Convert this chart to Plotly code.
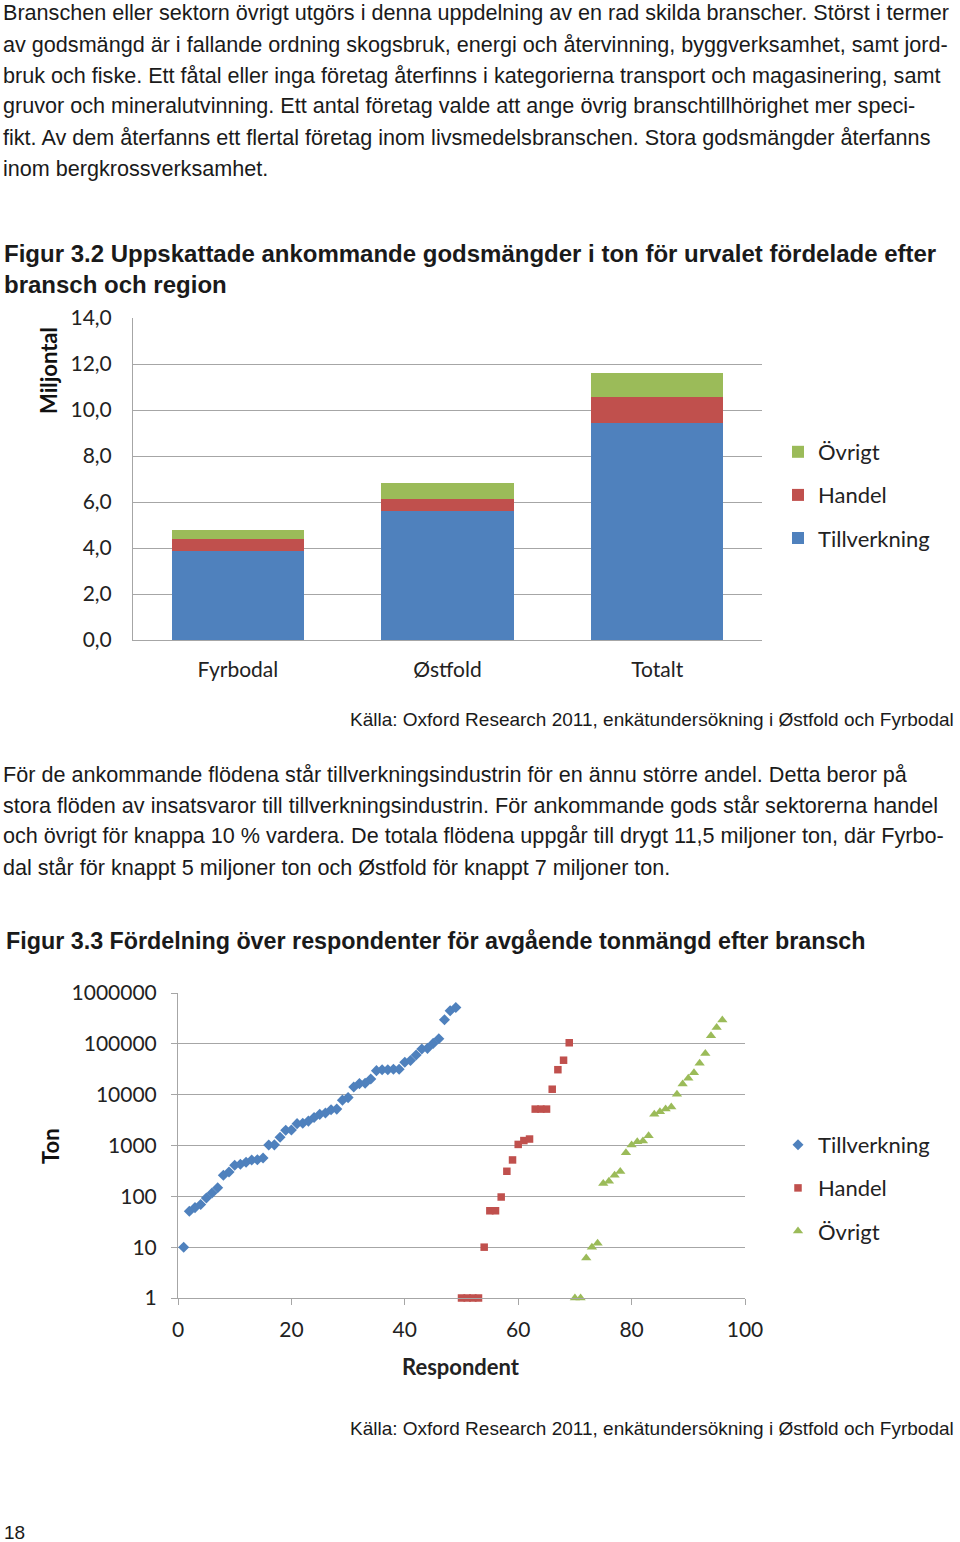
import plotly.graph_objects as go

W, H = 960, 1542


def px(x):
    return x / W


def py(y):
    return 1 - y / H


# ---------------- data: figure 3.2 (stacked bars) ----------------
regions = ["Fyrbodal", "Østfold", "Totalt"]
bar_tillverkning = [3.88, 5.59, 9.44]
bar_handel = [0.53, 0.54, 1.12]
bar_ovrigt = [0.38, 0.71, 1.06]
bar_yticks = [0, 2, 4, 6, 8, 10, 12, 14]
bar_yticktext = ["0,0", "2,0", "4,0", "6,0", "8,0", "10,0", "12,0", "14,0"]

# ---------------- data: figure 3.3 (respondents, log scale) ----------------
resp_tillverkning = [1, 2, 3, 4, 5, 6, 7, 8, 9, 10, 11, 12, 13, 14, 15, 16, 17,
                     18, 19, 20, 21, 22, 23, 24, 25, 26, 27, 28, 29, 30, 31, 32,
                     33, 34, 35, 36, 37, 38, 39, 40, 41, 42, 43, 44, 45, 46, 47,
                     48, 49]
ton_tillverkning = [10, 51, 60, 69, 93, 116, 148, 259, 302, 409, 429, 468, 520,
                    525, 570, 1020, 1030, 1450, 2000, 2020, 2690, 2750, 3020,
                    3540, 4100, 4360, 5040, 5200, 7800, 8750, 14200, 16500,
                    16800, 20400, 29700, 31000, 31000, 31600, 31700, 43500,
                    47000, 60500, 79000, 81500, 102000, 126000, 298000, 446000,
                    520000]
resp_handel = [50, 51, 52, 53, 54, 55, 56, 57, 58, 59, 60, 61, 62, 63, 64, 65,
               66, 67, 68, 69]
ton_handel = [1, 1, 1, 1, 10, 52, 52, 97, 311, 520, 1050, 1250, 1340, 5200,
              5200, 5200, 12800, 31000, 47600, 105000]
resp_ovrigt = [70, 71, 72, 73, 74, 75, 76, 77, 78, 79, 80, 81, 82, 83, 84, 85,
               86, 87, 88, 89, 90, 91, 92, 93, 94, 95, 96]
ton_ovrigt = [1, 1, 6.1, 10, 12, 178, 198, 259, 307, 720, 1020, 1180, 1230,
              1550, 4100, 4600, 5200, 5700, 10200, 16300, 21000, 27000, 41500,
              64500, 145000, 210000, 293000]
log_yticks = [1, 10, 100, 1000, 10000, 100000, 1000000]
log_yticktext = ["1", "10", "100", "1000", "10000", "100000", "1000000"]
resp_xticks = [0, 20, 40, 60, 80, 100]

# ---------------- page text ----------------
para1 = [
    "Branschen eller sektorn övrigt utgörs i denna uppdelning av en rad skilda branscher. Störst i termer",
    "av godsmängd är i fallande ordning skogsbruk, energi och återvinning, byggverksamhet, samt jord-",
    "bruk och fiske. Ett fåtal eller inga företag återfinns i kategorierna transport och magasinering, samt",
    "gruvor och mineralutvinning. Ett antal företag valde att ange övrig branschtillhörighet mer speci-",
    "fikt. Av dem återfanns ett flertal företag inom livsmedelsbranschen. Stora godsmängder återfanns",
    "inom bergkrossverksamhet.",
]
caption1 = [
    "Figur 3.2 Uppskattade ankommande godsmängder i ton för urvalet fördelade efter",
    "bransch och region",
]
para2 = [
    "För de ankommande flödena står tillverkningsindustrin för en ännu större andel. Detta beror på",
    "stora flöden av insatsvaror till tillverkningsindustrin. För ankommande gods står sektorerna handel",
    "och övrigt för knappa 10 % vardera. De totala flödena uppgår till drygt 11,5 miljoner ton, där Fyrbo-",
    "dal står för knappt 5 miljoner ton och Østfold för knappt 7 miljoner ton.",
]
caption2 = "Figur 3.3 Fördelning över respondenter för avgående tonmängd efter bransch"
source = "Källa: Oxford Research 2011, enkätundersökning i Østfold och Fyrbodal"
page_no = "18"

BLUE, RED, GREEN = "#4F81BD", "#C0504D", "#9BBB59"
GRID = "#A6A6A6"
CHART_FONT = "Lato, Carlito, Calibri, sans-serif"
BODY_FONT = "Liberation Sans, Arial, sans-serif"
TXT = "#1a1a1a"

fig = go.Figure()

# stacked bars
for name, vals, col, rank in [("Tillverkning", bar_tillverkning, BLUE, 3),
                              ("Handel", bar_handel, RED, 2),
                              ("Övrigt", bar_ovrigt, GREEN, 1)]:
    fig.add_trace(go.Bar(x=regions, y=vals, name=name, marker_color=col,
                         marker_line_width=0, legendgroup="b" + name,
                         legendrank=rank, legend="legend",
                         xaxis="x", yaxis="y"))

# scatter
for name, xs, ys, col, sym, size, rank in [
        ("Tillverkning", resp_tillverkning, ton_tillverkning, BLUE, "diamond", 8.5, 1),
        ("Handel", resp_handel, ton_handel, RED, "square", 7.5, 2),
        ("Övrigt", resp_ovrigt, ton_ovrigt, GREEN, "triangle-up", 9, 3)]:
    fig.add_trace(go.Scatter(x=xs, y=ys, name=name, mode="markers",
                             marker=dict(color=col, symbol=sym, size=size,
                                         line=dict(width=0)),
                             cliponaxis=False, legendgroup="s" + name,
                             legendrank=rank, legend="legend2",
                             xaxis="x2", yaxis="y2"))

tick_font = dict(family=CHART_FONT, size=21, color="#222")

fig.update_layout(
    width=W, height=H, autosize=False,
    margin=dict(l=0, r=0, t=0, b=0, autoexpand=False),
    paper_bgcolor="white", plot_bgcolor="white",
    barmode="stack", bargap=0.37,
    showlegend=True,
    xaxis=dict(domain=[px(133), px(762)], anchor="y", showgrid=False,
               showline=True, linecolor=GRID, linewidth=1, ticks="",
               tickfont=tick_font, ticklabelstandoff=11, fixedrange=True,
               automargin=False),
    yaxis=dict(domain=[py(640), py(318)], anchor="x", range=[0, 14],
               tickvals=bar_yticks, ticktext=bar_yticktext,
               showgrid=True, gridcolor=GRID, gridwidth=1,
               showline=True, linecolor=GRID, zeroline=False,
               ticks="", ticklabelstandoff=16, tickfont=tick_font,
               automargin=False),
    xaxis2=dict(domain=[px(178), px(745)], anchor="y2", range=[0, 100],
                tickvals=resp_xticks, showgrid=False, zeroline=False,
                showline=True, linecolor=GRID, ticks="outside", ticklen=6,
                tickcolor=GRID, ticklabelstandoff=7, tickfont=tick_font,
                automargin=False),
    yaxis2=dict(domain=[py(1298), py(993)], anchor="x2", type="log",
                range=[0, 6], tickvals=log_yticks, ticktext=log_yticktext,
                showgrid=True, gridcolor=GRID, gridwidth=1, zeroline=False,
                showline=True, linecolor=GRID, ticks="outside", ticklen=6,
                tickcolor=GRID, ticklabelstandoff=10, tickfont=tick_font,
                automargin=False),
    legend=dict(x=px(778), y=py(431), xanchor="left", yanchor="top",
                traceorder="grouped", tracegroupgap=11.5,
                font=dict(family=CHART_FONT, size=22, color="#222"),
                bgcolor="rgba(0,0,0,0)", itemclick=False),
    legend2=dict(x=px(778), y=py(1124), xanchor="left", yanchor="top",
                 traceorder="grouped", tracegroupgap=11.5,
                 font=dict(family=CHART_FONT, size=22, color="#222"),
                 bgcolor="rgba(0,0,0,0)", itemclick=False),
)

ann = []


def text(s, x, y, size, family=BODY_FONT, anchor="left", bold=False,
         color=TXT, angle=0):
    ann.append(dict(text=("<b>%s</b>" % s) if bold else s,
                    x=px(x), y=py(y), xref="paper", yref="paper",
                    xanchor=anchor, yanchor="middle", showarrow=False,
                    textangle=angle, borderpad=0,
                    font=dict(family=family, size=size, color=color)))


for i, line in enumerate(para1):
    text(line, 2, 13 + 31 * i, 21.6)
for i, line in enumerate(caption1):
    text(line, 3, 254 + 30 * i, 24, bold=True)
text(source, 955, 719, 19, anchor="right")
for i, line in enumerate(para2):
    text(line, 2, 774 + 31 * i, 21.6)
text(caption2, 5, 941, 23.3, bold=True)
text(source, 955, 1428, 19, anchor="right")
text(page_no, 3, 1532, 19)

# axis titles
text("Miljontal", 48, 371, 22, family=CHART_FONT, anchor="center", bold=True,
     color="#111", angle=-90)
text("Ton", 50, 1146, 22, family=CHART_FONT, anchor="center", bold=True,
     color="#111", angle=-90)
text("Respondent", 461, 1366, 22, family=CHART_FONT, anchor="center",
     bold=True, color="#222")

fig.update_layout(annotations=ann)

fig.write_html("out.html",
               post_script="document.body.style.margin='0';"
                           "document.documentElement.style.margin='0';")
